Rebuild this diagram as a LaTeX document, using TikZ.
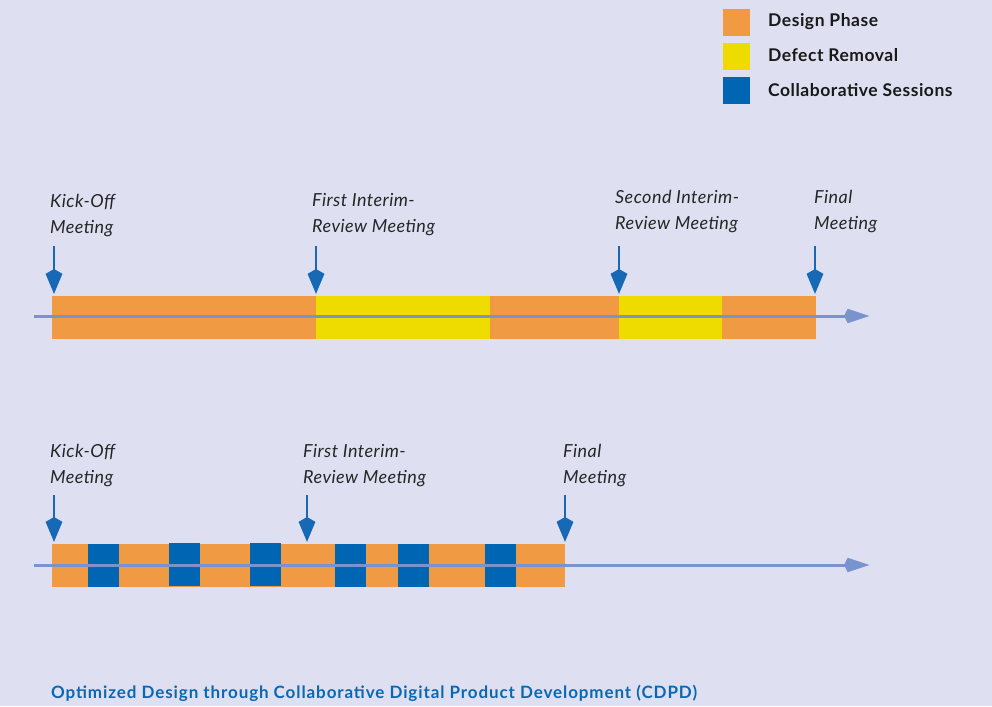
\documentclass[tikz,border=0pt]{standalone}
\usepackage{fontspec}
\setmainfont{Lato}
\usetikzlibrary{arrows.meta}
\definecolor{bg}{HTML}{DEE0F1}
\definecolor{design}{HTML}{F09A44}
\definecolor{defect}{HTML}{EEDC00}
\definecolor{collab}{HTML}{0066B3}
\definecolor{axis}{HTML}{7893CD}
\definecolor{meet}{HTML}{1769B5}
\definecolor{capt}{HTML}{0A68B3}
\begin{document}
\begin{tikzpicture}[x=1pt,y=-1pt,
  seg/.style={draw=none,inner sep=0pt,outer sep=0pt},
  axisline/.style={draw=axis,line width=3pt,-{Stealth[length=22pt,width=13pt,inset=-4pt]}},
  meetarrow/.style={draw=meet,line width=1.8pt,-{Stealth[length=20pt,width=16pt,inset=-5pt]}},
  mlabel/.style={anchor=base west,align=left,inner sep=0pt,font=\fontsize{18}{26}\selectfont\itshape\addfontfeature{LetterSpace=2.5},text=black!85},
  legtext/.style={anchor=base west,inner sep=0pt,font=\fontsize{17.5}{20}\selectfont\bfseries\addfontfeature{LetterSpace=3},text=black!90},
  legbox/.style={seg,minimum width=27pt,minimum height=27pt}
]
\fill[bg] (0,0) rectangle (992,706);
\useasboundingbox (0,0) rectangle (992,706);

% legend
\node[legbox,fill=design] (lg1) at (736.5,22.5) {};
\node[legbox,fill=defect] (lg2) at (736.5,56.5) {};
\node[legbox,fill=collab] (lg3) at (736.5,90.5) {};
\node[legtext] (lt1) at (768,27) {Design Phase};
\node[legtext] (lt2) at (768,61.5) {Defect Removal};
\node[legtext] (lt3) at (768,96) {Collaborative Sessions};

% top timeline
\fill[design] (52,296) rectangle (316,339);
\fill[defect] (316,296) rectangle (490,339);
\fill[design] (490,296) rectangle (619,339);
\fill[defect] (619,296) rectangle (722,339);
\fill[design] (722,296) rectangle (816,339);
\coordinate (ta) at (34,316);
\coordinate (tb) at (870,316);
\draw[axisline] (ta) -- (tb);

\node[mlabel] (t1) at (50,233) {Kick-Off\\Meeting};
\node[mlabel] (t2) at (312,232) {First Interim-\\Review Meeting};
\node[mlabel] (t3) at (615,229) {Second Interim-\\Review Meeting};
\node[mlabel] (t4) at (814,229) {Final\\Meeting};
\foreach \n/\x in {1/54,2/316,3/619,4/815}{
  \coordinate (ts\n) at (\x,246);
  \coordinate (te\n) at (\x,294);
  \draw[meetarrow] (ts\n) -- (te\n);
}

% bottom timeline
\fill[design] (52,544) rectangle (565,587);
\foreach \a/\b/\o in {88/119/0,169/200/-1,250/281/-1,335/366/0,398/429/0,485/516/0}{
  \fill[collab] (\a,544+\o) rectangle (\b,587+\o);
}
\coordinate (ba) at (34,565);
\coordinate (bb) at (870,565);
\draw[axisline] (ba) -- (bb);

\node[mlabel] (b1) at (50,483) {Kick-Off\\Meeting};
\node[mlabel] (b2) at (303,483) {First Interim-\\Review Meeting};
\node[mlabel] (b3) at (563,483) {Final\\Meeting};
\foreach \n/\x in {1/54,2/307,3/565}{
  \coordinate (bs\n) at (\x,495);
  \coordinate (be\n) at (\x,542);
  \draw[meetarrow] (bs\n) -- (be\n);
}

\node[anchor=base west,inner sep=0pt,font=\fontsize{17}{20}\selectfont\bfseries\addfontfeature{LetterSpace=5.3},text=capt] (cap) at (51,698) {Optimized Design through Collaborative Digital Product Development (CDPD)};
\end{tikzpicture}
\end{document}
